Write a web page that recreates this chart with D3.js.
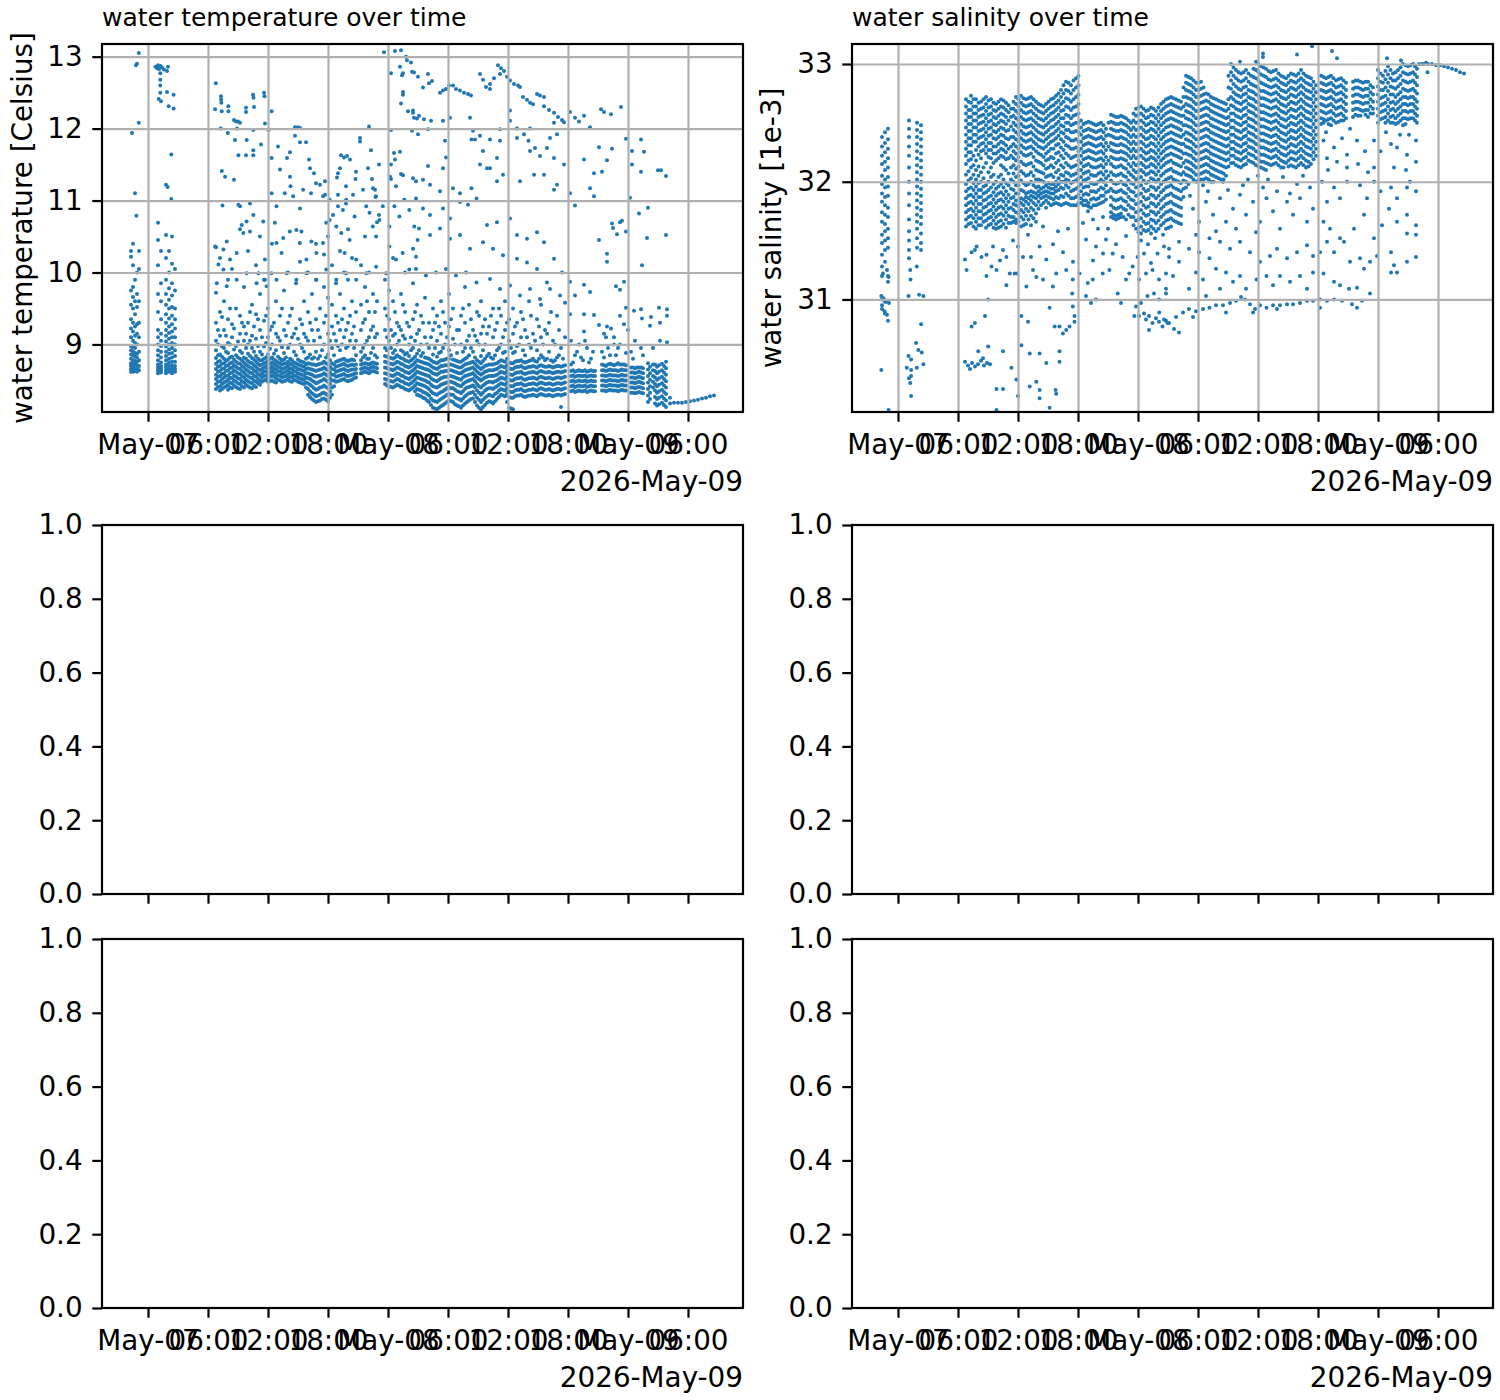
<!DOCTYPE html>
<html>
<head>
<meta charset="utf-8">
<script src="https://cdn.jsdelivr.net/npm/d3@7"></script>
<style>
  body { margin: 0; background: #fff; }
  svg { display: block; font-family: "DejaVu Sans", sans-serif; }
</style>
</head>
<body>
<div id="fig"></div>
<script>
// time is given in hours counted from 2026-05-07 00:00
var tickHours = [0, 6, 12, 18, 24, 30, 36, 42, 48, 54];
var tickLabels = ["May-07", "06:00", "12:00", "18:00", "May-08", "06:00", "12:00", "18:00", "May-09", "06:00"];
var tempTicks = [9, 10, 11, 12, 13];
var salTicks = [31, 32, 33];
var emptyTicks = [0, 0.2, 0.4, 0.6, 0.8, 1.0];

// temperature: one row per dive column -> [hour, values...]
var tempProfiles = [
[-1.7,8.62,8.66,8.7,8.74,8.8,8.86,8.92,8.98,9.1,9.22,9.35,9.55,9.75,10.22,10.3],
[-1.5,8.62,8.65,8.69,8.73,8.78,8.85,8.9,8.96,9.05,9.18,9.3,9.5,9.66,9.8,10.1,10.4],
[-1.3,8.63,8.67,8.72,8.77,8.83,8.88,8.95,9.02,9.12,9.25,9.42,9.6,9.9],
[-1.1,8.62,8.66,8.71,8.76,8.82,8.87,9.0,9.15,9.28,9.52,9.7,10.0],
[-0.9,8.64,8.7,8.78,8.9,9.1,9.3,9.6,10.05,10.3],
[1.0,8.6,8.63,8.66,8.69,8.72,8.78,8.85,8.92,9.0,9.1,9.2,9.45,9.7,10.1,10.45,10.69],
[1.3,8.61,8.64,8.67,8.7,8.75,8.82,8.9,8.98,9.05,9.15,9.35,9.6,9.85,10.3],
[1.8,8.6,8.64,8.68,8.72,8.78,8.84,8.9,8.97,9.04,9.12,9.2,9.3,9.42,9.55,9.7,9.9,10.2,10.52],
[2.1,8.62,8.66,8.7,8.75,8.8,8.87,8.93,9.0,9.08,9.16,9.25,9.36,9.5,9.62,9.78,10.0,10.3],
[2.4,8.6,8.63,8.67,8.71,8.76,8.82,8.88,8.95,9.02,9.1,9.18,9.28,9.4,9.52,9.68,9.85,10.12,10.5],
[2.7,8.62,8.66,8.7,8.76,8.84,8.92,9.0,9.1,9.22,9.35,9.5,9.75,10.05],
[6.8,8.38,8.45,8.52,8.58,8.66,8.73,8.81,8.92,9.05,9.3,9.72,10.35],
[7.2,8.36,8.42,8.49,8.56,8.63,8.7,8.77,8.86,9.12,9.45,10.2],
[7.6,8.4,8.47,8.54,8.6,8.67,8.74,8.8,8.95,9.2,9.6],
[8.0,8.37,8.44,8.51,8.57,8.64,8.71,8.79,8.88,9.02,9.35,9.9],
[8.4,8.39,8.46,8.53,8.61,8.68,8.75,8.83,9.1,9.28,10.05],
[8.8,8.41,8.48,8.55,8.62,8.69,8.76,8.85,8.98,9.5],
[9.2,8.38,8.45,8.52,8.59,8.66,8.73,8.8,8.91,9.15,9.4,10.6],
[9.6,8.4,8.47,8.54,8.61,8.68,8.75,8.82,9.05,9.25,9.8],
[10.0,8.42,8.49,8.56,8.63,8.7,8.77,8.87,9.0,9.3,10.3],
[10.4,8.39,8.46,8.53,8.6,8.67,8.74,8.81,8.95,9.12,9.55],
[10.8,8.41,8.48,8.55,8.62,8.69,8.76,8.84,9.08,9.42,10.1],
[11.2,8.44,8.5,8.57,8.64,8.71,8.78,8.9,9.2,9.7],
[11.6,8.5,8.56,8.62,8.68,8.74,8.8,8.97,9.33,9.9],
[12.0,8.48,8.54,8.6,8.66,8.72,8.78,8.86,9.1,9.5],
[12.4,8.5,8.57,8.63,8.69,8.75,8.82,9.0,9.25,10.4],
[12.8,8.47,8.53,8.59,8.65,8.71,8.77,8.92,9.15,9.6],
[13.2,8.5,8.56,8.62,8.68,8.74,8.8,9.05,9.4],
[13.6,8.49,8.55,8.61,8.67,8.73,8.79,8.88,9.2,9.75],
[14.0,8.52,8.58,8.64,8.7,8.76,8.95,9.3,10.0],
[14.4,8.48,8.54,8.6,8.66,8.72,8.78,9.1,9.5],
[14.8,8.5,8.56,8.62,8.68,8.74,8.85,9.22,9.85],
[15.2,8.47,8.53,8.59,8.65,8.71,8.77,9.0,9.35,10.15],
[15.6,8.45,8.51,8.57,8.63,8.69,8.75,8.9,9.15,9.6],
[16.0,8.3,8.38,8.46,8.53,8.6,8.67,8.74,8.82,9.05,9.45,10.0],
[16.4,8.24,8.32,8.42,8.5,8.58,8.65,8.72,8.8,9.2,9.7],
[16.8,8.2,8.28,8.37,8.46,8.55,8.63,8.71,8.9,9.35,9.9,10.4],
[17.2,8.22,8.3,8.4,8.49,8.57,8.65,8.73,8.84,9.1,9.5],
[17.6,8.25,8.33,8.43,8.52,8.6,8.68,8.76,9.0,9.3,9.8,10.25],
[18.0,8.21,8.29,8.39,8.48,8.56,8.64,8.72,8.86,9.15,9.65,10.5],
[18.4,8.3,8.4,8.5,8.58,8.66,8.74,8.95,9.25,9.55,10.1],
[18.8,8.48,8.55,8.62,8.69,8.76,9.05,9.4,9.85],
[19.2,8.5,8.57,8.64,8.71,8.78,8.92,9.2,9.7,10.3],
[19.6,8.52,8.59,8.66,8.73,8.8,9.1,9.5,10.0],
[20.0,8.49,8.56,8.63,8.7,8.77,8.98,9.3,9.9,10.6],
[20.4,8.51,8.58,8.65,8.72,8.79,9.15,9.6,10.2],
[20.8,8.54,8.6,8.66,8.72,8.85,9.05,9.45],
[21.3,8.6,8.66,8.72,8.78,8.9,9.2,9.55,10.1],
[21.7,8.62,8.68,8.74,8.85,9.0,9.35,9.8,10.5],
[22.1,8.6,8.66,8.72,8.8,9.1,9.45,10.0],
[22.5,8.63,8.69,8.75,8.95,9.25,9.7],
[22.9,8.61,8.67,8.73,8.82,9.15,9.6,10.7],
[23.7,8.45,8.52,8.6,8.68,8.76,8.84,8.95,9.2,9.5,9.9],
[24.1,8.42,8.5,8.58,8.66,8.74,8.82,9.05,9.35,9.75],
[24.5,8.4,8.48,8.56,8.64,8.72,8.8,8.88,9.12,9.6,10.2],
[24.9,8.44,8.52,8.6,8.68,8.76,8.85,9.0,9.3],
[25.3,8.41,8.49,8.57,8.65,8.73,8.81,8.92,9.2,9.7],
[25.7,8.38,8.46,8.54,8.62,8.7,8.78,8.86,9.08,9.45,10.0],
[26.1,8.36,8.44,8.52,8.6,8.68,8.76,8.84,9.0,9.25],
[26.5,8.4,8.48,8.56,8.64,8.72,8.8,8.95,9.35,9.85],
[26.9,8.3,8.38,8.46,8.54,8.62,8.7,8.78,8.87,9.15,9.55],
[27.3,8.28,8.36,8.44,8.52,8.6,8.68,8.76,8.84,9.0,9.4],
[27.7,8.25,8.33,8.42,8.5,8.58,8.66,8.74,8.82,9.1,9.65],
[28.1,8.2,8.29,8.38,8.47,8.56,8.64,8.72,8.8,8.95,9.3],
[28.5,8.12,8.22,8.32,8.42,8.51,8.6,8.68,8.76,8.86,9.2,9.5],
[28.9,8.1,8.2,8.3,8.4,8.49,8.58,8.66,8.74,8.83,9.05,9.4],
[29.3,8.14,8.24,8.34,8.44,8.53,8.62,8.7,8.78,8.9,9.15,9.6],
[29.7,8.18,8.28,8.37,8.46,8.55,8.63,8.71,8.79,9.0,9.3],
[30.1,8.22,8.31,8.4,8.48,8.56,8.64,8.72,8.8,8.92,9.25,9.7],
[30.5,8.2,8.3,8.39,8.47,8.55,8.63,8.71,8.79,9.08,9.5],
[30.9,8.15,8.25,8.35,8.44,8.53,8.61,8.69,8.77,8.88,9.2],
[31.3,8.12,8.22,8.32,8.42,8.51,8.6,8.68,8.76,9.0,9.4],
[31.7,8.18,8.28,8.38,8.47,8.56,8.64,8.72,8.8,8.95,9.3,9.8],
[32.1,8.22,8.32,8.41,8.5,8.58,8.66,8.74,8.85,9.12,9.55],
[32.5,8.25,8.34,8.43,8.52,8.6,8.68,8.76,8.9,9.2],
[32.9,8.15,8.26,8.36,8.45,8.54,8.62,8.7,8.78,9.05,9.45],
[33.3,8.1,8.2,8.3,8.4,8.5,8.58,8.66,8.74,8.84,9.15,9.6],
[33.7,8.16,8.26,8.36,8.45,8.54,8.62,8.7,8.8,9.0,9.35],
[34.1,8.21,8.3,8.39,8.48,8.56,8.64,8.72,8.87,9.25],
[34.5,8.18,8.28,8.38,8.47,8.56,8.64,8.72,8.8,9.1,9.5],
[34.9,8.24,8.33,8.42,8.5,8.58,8.66,8.74,8.92,9.3],
[35.3,8.3,8.38,8.46,8.54,8.62,8.7,8.78,9.0,9.4],
[35.7,8.28,8.36,8.44,8.52,8.6,8.68,8.76,8.9,9.2,9.6],
[36.1,8.12,8.27,8.35,8.43,8.51,8.59,8.67,8.75,9.05,9.35],
[36.5,8.1,8.26,8.34,8.42,8.5,8.58,8.66,8.74,8.88,9.15,9.5],
[36.9,8.29,8.37,8.45,8.53,8.61,8.69,8.77,8.98,9.3],
[37.3,8.3,8.38,8.46,8.54,8.62,8.7,8.78,9.1,9.45],
[37.7,8.27,8.35,8.43,8.51,8.59,8.67,8.75,8.85,9.2],
[38.1,8.29,8.37,8.45,8.53,8.61,8.69,8.77,9.0,9.6],
[38.5,8.3,8.38,8.46,8.54,8.62,8.7,8.8,9.15],
[38.9,8.28,8.36,8.44,8.52,8.6,8.68,8.76,8.92,9.35],
[39.3,8.31,8.39,8.47,8.55,8.63,8.71,8.85,9.1,9.55],
[39.7,8.29,8.37,8.45,8.53,8.61,8.69,8.78,9.2],
[40.1,8.3,8.38,8.46,8.54,8.62,8.7,8.9,9.3],
[40.5,8.28,8.36,8.44,8.52,8.6,8.68,8.76,9.05],
[40.9,8.3,8.38,8.46,8.54,8.62,8.7,8.82,9.4],
[41.3,8.13,8.29,8.37,8.45,8.53,8.61,8.69,8.95],
[41.7,8.31,8.39,8.47,8.55,8.63,8.71,9.1],
[42.3,8.35,8.42,8.49,8.56,8.63,8.72,9.05],
[42.7,8.34,8.41,8.48,8.55,8.62,8.85],
[43.1,8.36,8.43,8.5,8.57,8.64,9.0],
[43.5,8.35,8.42,8.49,8.56,8.63,8.78],
[43.9,8.34,8.41,8.48,8.55,8.62,8.95],
[44.3,8.36,8.43,8.5,8.57,8.64,8.8],
[44.7,8.35,8.42,8.49,8.56,8.63],
[45.4,8.36,8.43,8.5,8.57,8.64,8.72,8.9],
[45.8,8.35,8.42,8.49,8.56,8.63,8.7,9.1],
[46.2,8.37,8.44,8.51,8.58,8.65,8.73,8.85],
[46.6,8.36,8.43,8.5,8.57,8.64,8.71,9.0],
[47.0,8.35,8.42,8.49,8.56,8.63,8.74,8.95],
[47.4,8.37,8.44,8.51,8.58,8.65,8.72],
[47.8,8.36,8.43,8.5,8.57,8.64,8.71,8.88],
[48.3,8.33,8.4,8.47,8.54,8.61,8.68,8.9],
[48.7,8.32,8.39,8.46,8.53,8.6,8.67,9.05],
[49.1,8.34,8.41,8.48,8.55,8.62,8.68],
[49.5,8.32,8.39,8.46,8.53,8.6,8.67,8.85],
[50.0,8.2,8.29,8.38,8.47,8.56,8.65,8.74],
[50.5,8.4,8.48,8.56,8.64,8.72,8.95],
[50.9,8.15,8.24,8.33,8.42,8.51,8.6,8.69],
[51.4,8.19,8.28,8.37,8.46,8.55,8.64,8.73],
[51.8,8.13,8.22,8.31,8.4,8.49,8.58,8.67,8.76],
[52.2,8.18,8.26]
];

// temperature: the dives in between the ones above -> [hour, values...]
var tempProfilesB = [
[7.0,8.41,8.48,8.55,8.62,8.69,8.76,8.85,9.0,9.2],[7.4,8.38,8.45,8.52,8.59,8.66,8.73,8.83,8.97,9.38],
[7.8,8.42,8.49,8.56,8.63,8.7,8.77,8.9,9.12],[8.2,8.4,8.47,8.54,8.6,8.67,8.74,8.82,9.0,9.5],
[8.6,8.43,8.5,8.57,8.64,8.71,8.79,8.93,9.22],[9.0,8.39,8.46,8.53,8.6,8.67,8.74,8.82,9.04],
[9.4,8.42,8.49,8.56,8.63,8.7,8.78,8.88,9.3],[9.8,8.44,8.51,8.58,8.65,8.72,8.8,8.95,9.15],
[10.2,8.4,8.47,8.54,8.61,8.68,8.75,8.84,9.05,9.45],[10.6,8.43,8.5,8.57,8.64,8.71,8.79,8.9,9.25],
[11.0,8.46,8.52,8.59,8.66,8.73,8.8,8.98,9.35],[11.4,8.48,8.54,8.6,8.66,8.72,8.78,8.86,9.1],
[11.8,8.51,8.57,8.63,8.69,8.75,8.82,9.02,9.4],[12.2,8.49,8.55,8.61,8.67,8.73,8.8,8.94,9.2],
[12.6,8.48,8.55,8.61,8.67,8.73,8.79,8.87,9.3],[13.0,8.51,8.57,8.63,8.69,8.75,8.83,9.1],
[13.4,8.48,8.54,8.6,8.66,8.72,8.78,8.96,9.5],[13.8,8.5,8.56,8.62,8.68,8.74,8.82,9.12],
[14.2,8.49,8.55,8.61,8.67,8.73,8.8,9.0,9.4],[14.6,8.51,8.57,8.63,8.69,8.75,8.9,9.15],
[15.0,8.48,8.54,8.6,8.66,8.72,8.79,9.08],[15.4,8.46,8.52,8.58,8.64,8.7,8.76,8.95,9.28],
[15.8,8.4,8.47,8.54,8.6,8.66,8.72,8.8,9.1],[16.2,8.27,8.35,8.44,8.52,8.59,8.66,8.73,8.86,9.3],
[16.6,8.22,8.3,8.39,8.48,8.56,8.64,8.72,8.82,9.05],[17.0,8.21,8.29,8.38,8.47,8.56,8.64,8.72,8.8,9.2],
[17.4,8.24,8.32,8.41,8.5,8.58,8.66,8.74,8.92],[17.8,8.23,8.31,8.41,8.5,8.58,8.66,8.74,8.82,9.4],
[18.2,8.26,8.35,8.45,8.53,8.61,8.69,8.78,9.05],[18.6,8.42,8.5,8.58,8.65,8.72,8.85,9.15],
[19.0,8.49,8.56,8.63,8.7,8.77,8.98,9.3],[19.4,8.51,8.58,8.65,8.72,8.79,9.0,9.35],
[19.8,8.5,8.57,8.64,8.71,8.78,8.95,9.2],[20.2,8.5,8.57,8.64,8.71,8.78,9.05,9.4],
[20.6,8.53,8.59,8.65,8.71,8.78,8.95,9.25],[21.5,8.61,8.67,8.73,8.82,8.95,9.3],
[21.9,8.61,8.67,8.73,8.8,9.05,9.6],[22.3,8.62,8.68,8.74,8.88,9.2],
[22.7,8.62,8.68,8.74,8.85,9.1,9.45],[23.9,8.43,8.51,8.59,8.67,8.75,8.83,8.92,9.1,9.4],
[24.3,8.41,8.49,8.57,8.65,8.73,8.81,8.95,9.2],[24.7,8.42,8.5,8.58,8.66,8.74,8.82,8.92,9.15,9.45],
[25.1,8.43,8.51,8.59,8.67,8.75,8.83,9.05,9.25],[25.5,8.4,8.48,8.56,8.64,8.72,8.8,8.9,9.12,9.55],
[25.9,8.37,8.45,8.53,8.61,8.69,8.77,8.88,9.3],[26.3,8.38,8.46,8.54,8.62,8.7,8.78,8.92,9.1],
[26.7,8.35,8.43,8.51,8.59,8.67,8.75,8.83,9.05,9.45],[27.1,8.29,8.37,8.45,8.53,8.61,8.69,8.77,8.92,9.2],
[27.5,8.26,8.34,8.43,8.51,8.59,8.67,8.75,8.88,9.3],[27.9,8.22,8.31,8.4,8.48,8.57,8.65,8.73,8.81,9.0],
[28.3,8.16,8.25,8.35,8.44,8.53,8.62,8.7,8.78,9.1],[28.7,8.11,8.21,8.31,8.41,8.5,8.59,8.67,8.75,8.95,9.3],
[29.1,8.12,8.22,8.32,8.42,8.51,8.6,8.68,8.76,8.88,9.25],[29.5,8.16,8.26,8.35,8.45,8.54,8.62,8.7,8.78,8.95,9.45],
[29.9,8.2,8.3,8.39,8.47,8.55,8.63,8.71,8.8,9.1],[30.3,8.21,8.3,8.39,8.48,8.56,8.64,8.72,8.85,9.35],
[30.7,8.17,8.27,8.37,8.46,8.54,8.62,8.7,8.78,9.0],[31.1,8.14,8.24,8.34,8.43,8.52,8.6,8.68,8.76,9.2],
[31.5,8.15,8.25,8.35,8.45,8.54,8.62,8.7,8.78,8.9,9.5],[31.9,8.2,8.3,8.4,8.49,8.57,8.65,8.73,8.82,9.05],
[32.3,8.24,8.33,8.42,8.51,8.59,8.67,8.75,8.95,9.35],[32.7,8.2,8.3,8.4,8.49,8.57,8.65,8.73,8.82,9.12],
[33.1,8.12,8.23,8.33,8.42,8.52,8.6,8.68,8.76,9.0,9.4],[33.5,8.13,8.23,8.33,8.43,8.52,8.6,8.68,8.77,8.92,9.25],
[33.9,8.19,8.28,8.38,8.47,8.55,8.63,8.71,8.84,9.15],[34.3,8.2,8.29,8.39,8.48,8.56,8.64,8.72,8.82,9.4],
[34.7,8.21,8.31,8.4,8.49,8.57,8.65,8.73,8.85,9.2],[35.1,8.27,8.36,8.44,8.52,8.6,8.68,8.76,8.95,9.5],
[35.5,8.29,8.37,8.45,8.53,8.61,8.69,8.77,8.88,9.1],[35.9,8.2,8.31,8.39,8.47,8.55,8.63,8.71,8.8,9.3],
[36.3,8.11,8.26,8.34,8.42,8.5,8.58,8.66,8.74,8.95],[36.7,8.28,8.36,8.44,8.52,8.6,8.68,8.76,8.9,9.25],
[37.1,8.29,8.37,8.45,8.53,8.61,8.69,8.77,9.0],[37.5,8.28,8.36,8.44,8.52,8.6,8.68,8.76,8.92,9.35],
[37.9,8.28,8.36,8.44,8.52,8.6,8.68,8.76,9.1],[38.3,8.29,8.37,8.45,8.53,8.61,8.69,8.78,8.95,9.4],
[38.7,8.29,8.37,8.45,8.53,8.61,8.69,8.77,9.05],[39.1,8.3,8.38,8.46,8.54,8.62,8.7,8.8,9.25],
[39.5,8.3,8.38,8.46,8.54,8.62,8.7,8.82,9.0],[39.9,8.29,8.37,8.45,8.53,8.61,8.69,8.8,9.15],
[40.3,8.29,8.37,8.45,8.53,8.61,8.69,8.78,9.45],[40.7,8.29,8.37,8.45,8.53,8.61,8.69,8.78,9.0],
[41.1,8.3,8.38,8.46,8.54,8.62,8.7,8.85,9.2],[41.5,8.3,8.38,8.46,8.54,8.62,8.7,8.8],
[42.5,8.36,8.43,8.5,8.57,8.64,8.75],[42.9,8.35,8.42,8.49,8.56,8.63,8.9],
[43.3,8.35,8.42,8.49,8.56,8.63,8.82],[43.7,8.36,8.43,8.5,8.57,8.64,9.05],
[44.1,8.35,8.42,8.49,8.56,8.63,8.75],[44.5,8.35,8.42,8.49,8.56,8.63,8.9],
[45.6,8.36,8.43,8.5,8.57,8.64,8.71,8.82],[46.0,8.36,8.43,8.5,8.57,8.64,8.72,8.95],
[46.4,8.36,8.43,8.5,8.57,8.64,8.72],[46.8,8.36,8.43,8.5,8.57,8.64,8.72,8.85],
[47.2,8.36,8.43,8.5,8.57,8.64,8.72,9.0],[47.6,8.36,8.43,8.5,8.57,8.64,8.72],
[48.5,8.33,8.4,8.47,8.54,8.61,8.68,8.8],[48.9,8.33,8.4,8.47,8.54,8.61,8.68],
[49.3,8.33,8.4,8.47,8.54,8.61,8.68,8.95],[50.2,8.24,8.33,8.42,8.51,8.6,8.69],
[50.7,8.18,8.27,8.36,8.45,8.54,8.63,8.72],[51.1,8.17,8.26,8.35,8.44,8.53,8.62,8.71],
[51.6,8.16,8.25,8.34,8.43,8.52,8.61,8.7]
];

// temperature: single readings -> [hour, value]
var tempScatter = [
[-1.6,11.94],[-1.2,12.88],[-1.1,12.9],[-0.92,13.05],[-0.92,12.08],[-1.3,11.1],[-1.16,10.79],
[0.75,12.86],[0.9,12.84],[1.0,12.88],[1.1,12.83],[1.25,12.87],[1.4,12.85],[1.6,12.82],[2.0,12.86],
[1.23,12.77],[1.23,12.68],[1.23,12.6],[1.23,12.5],[1.07,12.41],[1.3,12.38],[1.9,12.51],[1.9,12.8],
[2.07,12.31],[2.56,12.28],[2.56,12.47],[2.33,11.64],[1.96,11.19],[1.8,11.22],[2.33,11.02],
[52.6,8.19],[53.0,8.19],[53.4,8.19],[53.8,8.2],[54.2,8.21],[54.6,8.22],[55.0,8.23],[55.4,8.25],[55.8,8.26],[56.2,8.28],[56.6,8.29],
[6.78,12.63],[6.71,12.27],[7.3,12.45],[7.31,12.4],[7.33,12.36],[7.37,12.24],[7.28,12.0],[7.38,11.41],[7.71,11.33],[7.45,10.93],
[8.04,12.31],[8.04,12.24],[7.98,11.94],[8.6,11.29],[8.6,12.12],[8.8,12.1],[9.0,12.1],[9.2,12.08],[8.9,12.0],[8.7,11.84],
[9.04,11.63],[9.04,10.94],[9.8,12.29],[9.8,12.23],[9.87,11.84],[9.8,11.63],[10.5,12.47],[10.55,12.43],[10.6,12.3],[10.53,11.98],
[10.53,11.7],[10.53,11.63],[11.3,11.78],[11.6,12.5],[11.65,12.45],[11.7,12.07],[12.06,11.98],[12.36,12.24],[12.36,11.59],[12.36,11.1],
[13.0,11.75],[13.2,11.43],[13.9,11.59],[14.2,11.67],[14.2,11.33],[14.25,11.2],[14.7,12.02],[15.0,12.02],[15.2,12.01],[14.7,11.9],
[15.2,11.81],[15.8,11.81],[16.1,11.57],[15.2,10.89],[16.2,11.45],[16.3,11.1],[16.6,11.38],[16.8,11.24],[17.2,11.22],[17.7,11.27],
[17.7,11.08],[19.0,11.38],[19.0,11.08],[18.9,11.32],[19.3,11.63],[19.6,11.6],[19.9,11.62],[20.2,11.57],[19.2,11.45],[19.8,11.2],
[19.8,10.96],[20.8,11.4],[20.75,11.3],[20.5,11.08],[21.2,11.87],[21.2,11.82],[22.1,12.03],[22.0,11.45],[22.3,11.7],[22.4,11.3],
[22.5,11.17],[22.7,11.15],[22.75,11.05],[23.1,11.5],[23.1,10.8],
[23.6,13.06],[24.3,12.77],[24.3,11.5],[24.2,11.33],[24.3,11.98],[24.6,11.66],[24.7,13.08],[25.3,13.09],[25.2,12.86],[25.5,12.77],
[25.4,12.74],[25.5,12.51],[25.5,12.47],[25.3,12.35],[25.8,13.0],[25.9,12.95],[26.0,12.24],[26.3,12.92],[26.4,12.79],[26.5,12.22],
[26.4,11.97],[26.6,12.15],[26.9,12.14],[25.3,11.37],[25.5,11.35],[25.2,11.68],[24.7,11.57],[24.3,11.3],[24.8,11.2],
[26.6,12.78],[27.0,12.72],[28.0,12.76],[28.1,12.63],[27.5,12.57],[28.4,12.66],[29.5,12.53],[29.8,12.55],[30.1,12.6],[30.5,12.6],
[30.8,12.55],[31.2,12.53],[31.6,12.5],[32.0,12.48],[32.3,12.46],[29.2,12.5],[33.2,12.76],[33.5,12.68],[33.8,12.58],[34.2,12.62],
[34.2,12.55],[34.6,12.7],[35.0,12.88],[35.3,12.84],[35.6,12.8],[35.9,12.72],[35.2,12.76],[36.2,12.67],[36.6,12.62],[37.0,12.6],
[37.2,12.58],[37.5,12.44],[37.9,12.4],[38.2,12.36],[38.5,12.34],[38.9,12.48],[39.2,12.46],[39.6,12.44],[39.6,12.31],[40.1,12.26],
[40.6,12.22],[41.0,12.16],[41.4,12.12],[41.6,12.09],[42.2,12.23],[42.7,12.15],[43.1,12.1],[43.6,12.18],[44.2,12.02],[45.3,12.27],
[45.6,12.23],[46.3,12.2],[47.3,12.3],[47.8,11.86],[49.3,11.85],[48.4,11.69],[49.6,11.68],[43.6,11.57],[45.1,11.74],[46.4,11.72],
[45.9,11.56],[44.6,11.38],[45.4,11.4],[48.4,11.5],[49.3,11.4],[51.0,11.42],[51.3,11.42],[51.8,11.34],[48.2,11.04],[49.1,10.82],
[50.0,10.9],[46.4,10.68],[47.4,10.72],[47.8,10.57],[46.9,10.53],[49.9,10.48],[51.8,10.52],[45.1,10.45],[45.9,10.26],[45.9,10.15],
[49.4,10.1],[42.2,11.1],[42.7,10.93],[44.2,11.17],[44.6,11.06],[42.2,9.87],[43.6,9.83],[44.2,9.73],[42.7,9.68],[43.6,9.42],
[44.6,9.41],[42.2,9.42],[43.6,9.18],[45.1,9.27],[45.9,9.25],[46.3,9.22],[45.6,9.15],[46.6,9.1],[47.8,9.51],[48.6,9.47],
[49.3,9.49],[47.2,9.4],[49.4,9.36],[50.3,9.38],[51.1,9.51],[51.9,9.49],[51.9,9.4],[51.2,9.3],[50.2,9.26],[47.6,9.28],
[48.0,9.2],[51.2,9.05],[51.9,9.03],[47.6,9.87],[46.8,9.81],[47.2,9.76],[47.2,10.7],[46.5,10.62],
[32.5,11.97],[32.35,11.85],[33.2,11.9],[34.2,11.85],[33.5,11.69],[33.9,11.45],[34.9,11.59],[35.2,11.83],[36.2,12.25],[36.2,12.11],
[36.9,11.87],[37.6,11.92],[38.05,11.83],[38.2,11.69],[38.7,11.73],[39.2,11.62],[40.2,11.87],[40.9,11.92],[40.6,11.59],[41.6,11.5],
[40.9,11.22],[40.6,11.15],[39.6,11.36],[38.6,11.36],[37.2,11.27],[35.5,11.36],[34.9,11.27],[34.2,11.45],[33.2,11.5],[32.35,11.17],
[31.2,11.1],[30.5,11.17],[29.2,11.13],[28.2,11.22],[27.5,11.29],[26.5,11.31],[26.8,11.03],[27.5,10.89],[28.2,10.8],[29.5,10.89],
[30.2,10.75],[31.2,10.98],[32.0,10.94],[32.85,11.03],[33.9,10.66],[34.9,10.7],[36.2,10.75],[36.9,10.52],[37.9,10.47],[38.9,10.56],
[39.6,10.42],[40.6,10.19],[41.4,10.0],[39.9,9.86],[38.9,10.05],[37.9,10.14],[36.9,10.19],[35.5,10.24],[34.5,10.33],[33.5,10.42],
[32.2,10.33],[31.2,10.52],[30.2,10.47],[29.2,10.61],[28.2,10.52],[27.1,10.61],[26.5,10.33],[26.8,10.05],[27.8,9.96],[28.8,10.0],
[29.8,10.05],[30.8,9.96],[31.8,10.0],[32.85,9.86],[34.2,9.91],[35.2,9.77],[36.2,9.82],[37.2,9.68],[38.2,9.77],[39.2,9.63],
[40.2,9.77],[41.2,9.68],[41.7,9.58],
[26.5,12.25],[27.1,12.18],[27.6,12.13],[28.3,12.11],[29.5,12.11],[30.2,12.15],[27.0,11.92],[28.0,11.99],[29.7,11.83],[29.8,11.6],
[29.5,11.45],[28.0,11.48],[26.8,11.27],[32.2,12.15],[32.7,11.85],[40.6,12.08],[39.9,11.73],[36.9,12.0],[38.2,12.0],[35.2,11.99],
[6.71,10.36],[7.54,10.32],[7.87,10.43],[7.04,10.11],[7.54,10.04],[8.2,10.18],[8.87,10.27],[9.37,10.66],[9.86,10.71],[9.53,10.55],
[10.2,10.57],[10.53,10.8],[11.19,10.5],[11.52,10.71],[11.69,10.18],[11.03,9.99],[11.69,9.9],[12.35,9.99],[12.69,10.69],[12.85,10.41],
[13.35,10.27],[13.52,10.48],[14.18,10.57],[14.84,10.59],[15.34,10.57],[15.18,10.41],[15.84,10.18],[16.34,10.43],[16.84,10.27],[17.5,10.41],
[17.83,10.69],[18.16,10.73],[18.5,10.8],[18.83,10.64],[19.49,10.87],[19.82,11.01],[19.33,10.55],[19.66,10.27],[20.16,10.45],[20.66,10.78],
[20.82,10.18],[21.82,10.92],[22.15,10.83],[22.48,10.64],[22.81,10.5],[23.14,10.73],[23.48,10.92],[24.14,10.64],[24.64,10.92],[25.14,10.78],
[25.63,11.01],[26.13,10.87],[26.63,10.64],[26.96,10.45],[24.14,10.36],[24.8,10.18],[25.47,10.27],[26.13,10.04],[26.8,10.22],[23.81,9.99],
[22.81,10.08],[21.82,9.99],[20.82,9.9],[19.82,9.99],[18.83,9.9],[17.83,10.04],[16.84,9.9],[15.84,9.99],[14.84,9.9],[13.85,9.99],
[12.85,9.9],[11.86,9.81],[10.86,9.85],[9.86,9.99],[8.87,9.9],[7.87,9.81],[6.88,9.85],
[9.2,10.92],[10.2,10.96],[12.85,10.92],[13.68,11.1],[14.51,11.06],[15.51,11.15],[17.5,11.06],[18.16,11.01],[19.0,10.92],[21.5,11.15],[22.8,11.06]
];

// salinity: one row per dive column -> [hour, values...]
var salProfiles = [
[-1.6,32.38,32.3,32.22,32.15,32.05,31.98,31.9,31.83,31.74,31.66,31.55,31.48,31.38,31.2,31.0,30.95],
[-1.3,32.42,32.33,32.25,32.17,32.1,32.02,31.95,31.87,31.8,31.72,31.64,31.58,31.5,31.42,31.32,30.98,30.88],
[-1.0,32.45,32.36,32.28,32.2,32.12,32.04,31.96,31.88,31.78,31.7,31.6,31.52,31.44,31.2,31.15,30.82],
[1.1,32.52,32.45,32.38,32.3,32.22,32.12,32.0,31.9,31.8,31.68,31.58,31.5,31.42,31.35],
[1.9,32.5,32.44,32.38,32.32,32.26,32.2,32.14,32.08,32.02,31.96,31.9,31.84,31.78,31.72,31.66,31.6,31.52,31.44],
[2.3,32.48,32.42,32.36,32.3,32.24,32.18,32.12,32.06,32.0,31.94,31.88,31.82,31.76,31.7,31.64,31.56,31.48,31.42],
[6.8,32.70,32.64,32.58,32.52,32.46,32.40,32.34,32.28,32.22,32.15,32.06,31.98,31.92,31.86,31.80,31.74,31.68,31.62],
[7.3,32.73,32.67,32.61,32.55,32.49,32.43,32.37,32.31,32.25,32.19,32.12,32.03,31.95,31.89,31.83,31.77,31.71,31.65],
[7.8,32.70,32.64,32.58,32.52,32.46,32.40,32.34,32.27,32.18,32.10,32.02,31.96,31.90,31.84,31.78,31.72,31.66,31.60],
[8.3,32.68,32.62,32.56,32.50,32.44,32.38,32.32,32.26,32.20,32.08,32.00,31.93,31.87,31.81,31.75,31.69,31.63],
[8.8,32.72,32.66,32.60,32.54,32.48,32.42,32.36,32.30,32.24,32.16,31.97,31.91,31.85,31.79,31.73,31.67,31.61],
[9.3,32.70,32.64,32.58,32.52,32.46,32.40,32.33,32.27,32.20,32.12,32.04,31.95,31.88,31.82,31.76,31.70,31.64],
[9.8,32.66,32.60,32.54,32.48,32.42,32.36,32.30,32.24,32.18,32.00,31.94,31.88,31.82,31.76,31.70,31.64,31.60],
[10.3,32.70,32.64,32.58,32.52,32.46,32.40,32.34,32.28,32.22,32.14,32.06,31.98,31.91,31.85,31.79,31.73,31.67,31.62],
[10.8,32.67,32.61,32.55,32.49,32.43,32.37,32.31,32.25,32.19,32.10,31.99,31.92,31.86,31.80,31.74,31.68,31.61],
[11.3,32.62,32.55,32.47,32.38,32.30,32.22,32.12,32.02,31.94,31.86,31.78,31.70,31.65],
[11.8,32.72,32.66,32.60,32.54,32.48,32.42,32.36,32.30,32.24,32.18,32.11,32.04,31.97,31.90,31.84,31.80,31.74,31.68,31.65],
[12.3,32.73,32.67,32.61,32.55,32.49,32.43,32.37,32.31,32.25,32.17,32.09,32.01,31.93,31.86,31.82,31.76,31.70,31.62],
[12.8,32.70,32.64,32.58,32.52,32.46,32.40,32.34,32.28,32.22,32.14,32.05,31.97,31.90,31.87,31.83,31.77,31.71,31.64],
[13.3,32.72,32.66,32.60,32.54,32.48,32.42,32.36,32.30,32.24,32.16,32.08,32.00,31.92,31.88,31.84,31.78,31.71,31.63],
[13.8,32.68,32.62,32.56,32.50,32.44,32.38,32.32,32.26,32.18,32.10,32.02,31.95,31.90,31.86,31.80,31.73,31.66],
[14.3,32.65,32.59,32.53,32.47,32.41,32.35,32.29,32.23,32.16,32.08,32.01,31.94,31.90,31.86,31.80],
[14.8,32.66,32.60,32.54,32.48,32.42,32.36,32.30,32.24,32.18,32.11,32.04,31.97,31.92,31.88,31.84,31.78],
[15.3,32.70,32.64,32.58,32.52,32.46,32.40,32.34,32.28,32.21,32.14,32.06,31.98,31.94,31.90,31.86,31.80],
[15.8,32.73,32.67,32.61,32.55,32.49,32.43,32.37,32.31,32.24,32.16,32.08,32.00,31.96,31.92,31.87,31.82],
[16.3,32.78,32.72,32.66,32.60,32.54,32.48,32.42,32.36,32.29,32.22,32.14,32.06,32.00,31.95,31.88,31.80],
[16.8,32.85,32.78,32.71,32.64,32.57,32.50,32.44,32.38,32.31,32.24,32.16,32.08,32.02,31.97,31.90,31.82],
[17.3,32.82,32.75,32.68,32.61,32.54,32.48,32.42,32.35,32.28,32.20,32.12,32.05,31.99,31.92,31.86,31.80],
[17.8,32.88,32.80,32.72,32.64,32.57,32.50,32.43,32.36,32.29,32.22,32.14,32.07,32.01,31.94,31.87,31.80],
[18.3,32.52,32.46,32.40,32.34,32.28,32.22,32.16,32.10,32.04,31.98,31.92,31.86,31.82],
[18.8,32.50,32.44,32.38,32.32,32.26,32.20,32.14,32.08,32.02,31.96,31.90,31.84,31.80],
[19.3,32.50,32.44,32.38,32.32,32.26,32.20,32.13,32.06,31.99,31.92,31.85,31.78],
[19.8,32.48,32.42,32.36,32.30,32.24,32.18,32.12,32.05,31.98,31.91,31.85,31.80],
[20.3,32.50,32.44,32.38,32.32,32.26,32.20,32.14,32.08,32.02,31.95,31.88,31.82],
[20.8,32.45,32.39,32.33,32.27,32.21,32.15,32.09,32.03,31.97,31.91,31.85],
[21.3,32.57,32.51,32.45,32.39,32.33,32.27,32.21,32.15,32.08,32.01,31.94,31.87,31.80,31.74,31.70],
[21.8,32.55,32.49,32.43,32.37,32.31,32.25,32.19,32.12,32.05,31.98,31.91,31.84,31.77,31.71,31.68],
[22.3,32.56,32.50,32.44,32.38,32.32,32.26,32.20,32.14,32.07,32.00,31.93,31.86,31.79,31.73,31.70],
[22.8,32.54,32.48,32.42,32.36,32.30,32.24,32.18,32.11,32.04,31.97,31.90,31.83,31.76,31.68],
[23.3,32.50,32.44,32.38,32.32,32.26,32.20,32.13,32.06,31.99,31.92,31.85,31.78,31.70],
[23.8,32.62,32.56,32.50,32.44,32.38,32.32,32.26,32.20,32.14,32.08,32.02,31.95,31.88,31.81,31.74,31.67,31.60],
[24.3,32.64,32.58,32.52,32.46,32.40,32.34,32.28,32.22,32.16,32.10,32.04,31.97,31.90,31.83,31.76,31.69,31.62,31.56],
[24.8,32.60,32.54,32.48,32.42,32.36,32.30,32.24,32.18,32.12,32.06,31.99,31.92,31.85,31.78,31.71,31.64,31.58],
[25.3,32.63,32.57,32.51,32.45,32.39,32.33,32.27,32.21,32.15,32.09,32.03,31.96,31.89,31.82,31.75,31.68,31.62,31.56],
[25.8,32.60,32.54,32.48,32.42,32.36,32.30,32.24,32.18,32.12,32.06,32.00,31.93,31.86,31.79,31.72,31.65,31.58],
[26.3,32.66,32.60,32.54,32.48,32.42,32.36,32.30,32.24,32.18,32.12,32.05,31.98,31.91,31.84,31.77,31.70,31.63],
[26.8,32.70,32.64,32.58,32.52,32.46,32.40,32.34,32.28,32.22,32.16,32.09,32.02,31.95,31.88,31.81,31.74,31.67,31.60],
[27.3,32.72,32.66,32.60,32.54,32.48,32.42,32.36,32.30,32.24,32.18,32.11,32.04,31.97,31.90,31.83,31.76,31.69,31.62],
[27.8,32.70,32.64,32.58,32.52,32.46,32.40,32.34,32.28,32.22,32.15,32.08,32.01,31.94,31.87,31.80,31.73,31.66],
[28.3,32.68,32.62,32.56,32.50,32.44,32.38,32.32,32.26,32.20,32.13,32.06,31.99,31.92,31.85,31.78,31.71,31.64],
[28.8,32.90,32.84,32.78,32.72,32.66,32.60,32.54,32.48,32.42,32.36,32.30,32.24,32.18,32.12,32.06,32.00],
[29.3,32.88,32.82,32.76,32.70,32.64,32.58,32.52,32.46,32.40,32.34,32.28,32.22,32.16,32.10,32.04],
[29.8,32.84,32.78,32.72,32.66,32.60,32.54,32.48,32.42,32.36,32.30,32.24,32.18,32.12,32.06,32.00],
[30.3,32.85,32.79,32.73,32.67,32.61,32.55,32.49,32.43,32.37,32.31,32.25,32.19,32.13,32.07,32.02],
[30.8,32.75,32.69,32.63,32.57,32.51,32.45,32.39,32.33,32.27,32.21,32.15,32.09,32.03],
[31.3,32.72,32.66,32.60,32.54,32.48,32.42,32.36,32.30,32.24,32.18,32.12,32.06,32.00],
[31.8,32.70,32.64,32.58,32.52,32.46,32.40,32.34,32.28,32.22,32.16,32.10,32.04],
[32.3,32.68,32.62,32.56,32.50,32.44,32.38,32.32,32.26,32.20,32.14,32.08,32.02],
[32.8,32.66,32.60,32.54,32.48,32.42,32.36,32.30,32.24,32.18,32.12,32.05],
[33.3,33.00,32.93,32.86,32.79,32.72,32.65,32.58,32.52,32.46,32.40,32.34,32.28,32.22,32.16],
[33.8,32.95,32.88,32.81,32.74,32.68,32.62,32.56,32.50,32.44,32.38,32.32,32.26,32.20,32.14],
[34.3,32.92,32.85,32.78,32.72,32.66,32.60,32.54,32.48,32.42,32.36,32.30,32.24,32.18,32.12],
[34.8,32.95,32.88,32.81,32.75,32.69,32.63,32.57,32.51,32.45,32.39,32.33,32.27,32.21,32.15],
[35.3,32.90,32.83,32.77,32.71,32.65,32.59,32.53,32.47,32.41,32.35,32.29,32.23,32.17],
[35.8,33.02,32.95,32.88,32.81,32.74,32.68,32.62,32.56,32.50,32.44,32.38,32.32,32.26,32.20,32.14],
[36.3,32.98,32.91,32.84,32.77,32.71,32.65,32.59,32.53,32.47,32.41,32.35,32.29,32.23,32.17,32.12],
[36.8,32.96,32.89,32.82,32.76,32.70,32.64,32.58,32.52,32.46,32.40,32.34,32.28,32.22,32.16,32.10],
[37.3,32.93,32.86,32.80,32.74,32.68,32.62,32.56,32.50,32.44,32.38,32.32,32.26,32.20,32.14],
[37.8,32.95,32.88,32.82,32.76,32.70,32.64,32.58,32.52,32.46,32.40,32.34,32.28,32.22,32.16],
[38.3,32.90,32.84,32.78,32.72,32.66,32.60,32.54,32.48,32.42,32.36,32.30,32.24,32.18,32.12],
[38.8,32.88,32.82,32.76,32.70,32.64,32.58,32.52,32.46,32.40,32.34,32.28,32.22,32.16],
[39.3,32.92,32.86,32.80,32.74,32.68,32.62,32.56,32.50,32.44,32.38,32.32,32.26,32.20,32.14],
[39.8,32.90,32.84,32.78,32.72,32.66,32.60,32.54,32.48,32.42,32.36,32.30,32.24,32.18,32.12],
[40.3,32.95,32.88,32.82,32.76,32.70,32.64,32.58,32.52,32.46,32.40,32.34,32.28,32.22,32.16],
[40.8,32.90,32.84,32.78,32.72,32.66,32.60,32.54,32.48,32.42,32.36,32.30,32.24,32.18,32.12],
[41.3,32.88,32.82,32.76,32.70,32.64,32.58,32.52,32.46,32.40,32.34,32.28,32.22,32.15],
[41.8,32.82,32.76,32.70,32.64,32.58,32.52,32.46,32.40,32.34,32.28,32.22],
[42.3,32.90,32.84,32.78,32.72,32.66,32.60,32.54,32.49],
[42.8,32.88,32.82,32.76,32.70,32.64,32.58,32.52],
[43.3,32.90,32.84,32.78,32.72,32.66,32.60,32.54,32.48],
[43.8,32.86,32.80,32.74,32.68,32.62,32.56,32.50],
[44.3,32.88,32.82,32.76,32.70,32.64,32.58,32.52],
[44.8,32.84,32.78,32.72,32.66,32.60,32.54],
[45.5,32.85,32.79,32.73,32.67,32.61,32.55],
[46.0,32.86,32.80,32.74,32.68,32.62,32.56],
[46.5,32.84,32.78,32.72,32.66,32.60],
[47.0,32.85,32.79,32.73,32.67,32.61,32.55],
[47.5,32.80,32.74,32.68,32.62,32.58],
[48.0,32.95,32.88,32.81,32.74,32.68,32.62,32.56,32.50],
[48.5,32.90,32.84,32.78,32.72,32.66,32.60,32.54],
[49.0,32.98,32.91,32.84,32.77,32.70,32.64,32.58,32.52],
[49.5,32.92,32.86,32.80,32.74,32.68,32.62,32.56,32.50],
[50.0,32.95,32.88,32.81,32.74,32.68,32.62,32.56,32.50],
[50.5,33.00,32.93,32.86,32.79,32.72,32.66,32.60,32.54,32.48],
[51.0,32.98,32.91,32.84,32.77,32.71,32.65,32.59,32.53],
[51.5,33.00,32.93,32.86,32.79,32.72,32.66,32.60,32.54],
[51.9,32.96,32.89,32.82,32.75,32.68,32.62,32.56,32.50]
];

// salinity: the dives in between the ones above -> [hour, values...]
var salProfilesB = [
[7.05,32.68,32.61,32.55,32.49,32.43,32.37,32.31,32.25,32.18,32.09,32.01,31.94,31.88,31.82,31.76,31.70,31.64],
[7.55,32.70,32.64,32.58,32.52,32.46,32.40,32.34,32.22,32.14,32.06,31.99,31.93,31.87,31.81,31.75,31.69,31.62],
[8.05,32.67,32.61,32.55,32.49,32.43,32.37,32.30,32.23,32.13,32.05,31.99,31.93,31.87,31.81,31.75,31.69,31.63],
[8.55,32.70,32.63,32.57,32.51,32.45,32.39,32.33,32.27,32.12,32.03,31.96,31.90,31.84,31.78,31.72,31.66],
[9.05,32.69,32.63,32.57,32.51,32.45,32.39,32.33,32.27,32.21,32.08,32.00,31.93,31.87,31.81,31.75,31.69,31.63],
[9.55,32.67,32.61,32.55,32.49,32.43,32.37,32.30,32.24,32.16,32.06,31.98,31.91,31.85,31.79,31.73,31.67,31.61],
[10.05,32.68,32.62,32.56,32.50,32.44,32.38,32.32,32.26,32.20,32.04,31.96,31.90,31.84,31.78,31.72,31.66,31.61],
[10.55,32.69,32.63,32.57,32.51,32.45,32.39,32.33,32.27,32.21,32.12,32.02,31.95,31.89,31.83,31.77,31.71,31.64],
[11.05,32.65,32.59,32.52,32.44,32.36,32.28,32.20,32.07,31.97,31.89,31.83,31.77,31.71,31.65],
[11.55,32.68,32.62,32.56,32.50,32.44,32.38,32.32,32.26,32.20,32.14,32.07,32.00,31.93,31.87,31.81,31.76,31.70,31.66],
[12.05,32.70,32.64,32.58,32.52,32.46,32.40,32.34,32.28,32.21,32.13,32.05,31.97,31.90,31.84,31.79,31.73,31.66],
[12.55,32.71,32.65,32.59,32.53,32.47,32.41,32.35,32.29,32.23,32.15,32.07,31.99,31.92,31.85,31.80,31.74,31.68,31.63],
[13.05,32.71,32.65,32.59,32.53,32.47,32.41,32.35,32.29,32.23,32.15,32.06,31.98,31.91,31.86,31.81,31.75,31.68],
[13.55,32.70,32.64,32.58,32.52,32.46,32.40,32.34,32.28,32.21,32.13,32.05,31.97,31.91,31.87,31.82,31.76,31.69],
[14.05,32.66,32.60,32.54,32.48,32.42,32.36,32.30,32.24,32.17,32.09,32.02,31.96,31.92,31.88,31.83,31.77],
[14.55,32.64,32.58,32.52,32.46,32.40,32.34,32.28,32.21,32.14,32.07,32.00,31.95,31.91,31.87,31.82],
[15.05,32.68,32.62,32.56,32.50,32.44,32.38,32.32,32.26,32.19,32.12,32.05,31.99,31.95,31.91,31.87,31.82],
[15.55,32.71,32.65,32.59,32.53,32.47,32.41,32.35,32.28,32.20,32.12,32.04,31.98,31.94,31.90,31.85,31.81],
[16.05,32.75,32.69,32.63,32.57,32.51,32.45,32.39,32.32,32.25,32.18,32.10,32.03,31.98,31.93,31.86,31.81],
[16.55,32.82,32.75,32.68,32.61,32.54,32.47,32.41,32.34,32.27,32.20,32.12,32.05,32.00,31.94,31.87,31.81],
[17.05,32.84,32.77,32.70,32.63,32.56,32.50,32.44,32.37,32.30,32.22,32.14,32.07,32.01,31.95,31.88,31.81],
[17.55,32.86,32.78,32.70,32.63,32.56,32.49,32.42,32.35,32.28,32.21,32.13,32.06,32.00,31.93,31.86,31.80],
[18.05,32.90,32.82,32.74,32.66,32.58,32.50,32.42,32.34,32.26,32.18,32.10,32.03,31.96,31.89,31.82],
[18.55,32.49,32.43,32.37,32.31,32.25,32.19,32.13,32.07,32.01,31.95,31.89,31.84,31.80],
[19.05,32.51,32.45,32.39,32.33,32.27,32.21,32.15,32.09,32.03,31.96,31.89,31.82,31.79],
[19.55,32.49,32.43,32.37,32.31,32.25,32.19,32.12,32.05,31.98,31.92,31.86,31.80],
[20.05,32.49,32.43,32.37,32.31,32.25,32.19,32.13,32.07,32.00,31.93,31.86,31.81],
[20.55,32.48,32.42,32.36,32.30,32.24,32.18,32.12,32.06,32.00,31.94,31.88,31.83],
[21.05,32.50,32.40,32.30,32.18,32.05,31.92],
[21.55,32.56,32.50,32.44,32.38,32.32,32.26,32.20,32.13,32.06,31.99,31.92,31.85,31.78,31.72,31.69],
[22.05,32.55,32.49,32.43,32.37,32.31,32.25,32.19,32.13,32.06,31.99,31.92,31.85,31.78,31.72,31.69],
[22.55,32.55,32.49,32.43,32.37,32.31,32.25,32.19,32.12,32.05,31.98,31.91,31.84,31.77,31.70],
[23.05,32.52,32.46,32.40,32.34,32.28,32.22,32.15,32.08,32.01,31.94,31.87,31.80,31.72],
[23.55,32.58,32.52,32.46,32.40,32.34,32.28,32.22,32.16,32.10,32.04,31.98,31.91,31.84,31.77,31.70,31.63],
[24.05,32.63,32.57,32.51,32.45,32.39,32.33,32.27,32.21,32.15,32.09,32.03,31.96,31.89,31.82,31.75,31.68,31.61,31.57],
[24.55,32.62,32.56,32.50,32.44,32.38,32.32,32.26,32.20,32.14,32.08,32.01,31.94,31.87,31.80,31.73,31.66,31.59],
[25.05,32.61,32.55,32.49,32.43,32.37,32.31,32.25,32.19,32.13,32.07,32.00,31.93,31.86,31.79,31.72,31.65,31.59],
[25.55,32.62,32.56,32.50,32.44,32.38,32.32,32.26,32.20,32.14,32.08,32.02,31.95,31.88,31.81,31.74,31.67,31.60],
[26.05,32.63,32.57,32.51,32.45,32.39,32.33,32.27,32.21,32.15,32.09,32.02,31.95,31.88,31.81,31.74,31.67,31.60],
[26.55,32.68,32.62,32.56,32.50,32.44,32.38,32.32,32.26,32.20,32.14,32.07,32.00,31.93,31.86,31.79,31.72,31.65],
[27.05,32.71,32.65,32.59,32.53,32.47,32.41,32.35,32.29,32.23,32.17,32.10,32.03,31.96,31.89,31.82,31.75,31.68,31.61],
[27.55,32.71,32.65,32.59,32.53,32.47,32.41,32.35,32.29,32.23,32.16,32.09,32.02,31.95,31.88,31.81,31.74,31.67],
[28.05,32.69,32.63,32.57,32.51,32.45,32.39,32.33,32.27,32.21,32.14,32.07,32.00,31.93,31.86,31.79,31.72,31.65],
[28.55,32.80,32.72,32.64,32.56,32.48,32.40,32.32,32.24,32.16,32.08,32.01,31.94,31.87],
[29.05,32.89,32.83,32.77,32.71,32.65,32.59,32.53,32.47,32.41,32.35,32.29,32.23,32.17,32.11,32.05,31.98],
[29.55,32.86,32.80,32.74,32.68,32.62,32.56,32.50,32.44,32.38,32.32,32.26,32.20,32.14,32.08,32.02],
[30.05,32.84,32.78,32.72,32.66,32.60,32.54,32.48,32.42,32.36,32.30,32.24,32.18,32.12,32.06,32.01],
[30.55,32.80,32.74,32.68,32.62,32.56,32.50,32.44,32.38,32.32,32.26,32.20,32.14,32.08,32.02],
[31.05,32.74,32.68,32.62,32.56,32.50,32.44,32.38,32.32,32.26,32.20,32.14,32.08,32.02],
[31.55,32.71,32.65,32.59,32.53,32.47,32.41,32.35,32.29,32.23,32.17,32.11,32.05,32.00],
[32.05,32.69,32.63,32.57,32.51,32.45,32.39,32.33,32.27,32.21,32.15,32.09,32.03],
[32.55,32.67,32.61,32.55,32.49,32.43,32.37,32.31,32.25,32.19,32.13,32.07,32.02],
[33.05,32.90,32.80,32.70,32.62,32.55,32.49,32.43,32.37,32.31,32.25,32.19,32.13],
[33.55,32.97,32.90,32.83,32.76,32.70,32.64,32.58,32.52,32.46,32.40,32.34,32.28,32.22,32.16],
[34.05,32.93,32.86,32.79,32.73,32.67,32.61,32.55,32.49,32.43,32.37,32.31,32.25,32.19,32.13],
[34.55,32.93,32.86,32.80,32.74,32.68,32.62,32.56,32.50,32.44,32.38,32.32,32.26,32.20,32.14],
[35.05,32.92,32.85,32.78,32.72,32.66,32.60,32.54,32.48,32.42,32.36,32.30,32.24,32.18],
[35.55,32.96,32.89,32.82,32.76,32.70,32.64,32.58,32.52,32.46,32.40,32.34,32.28,32.22,32.16],
[36.05,33.00,32.93,32.86,32.79,32.73,32.67,32.61,32.55,32.49,32.43,32.37,32.31,32.25,32.19,32.13],
[36.55,32.97,32.90,32.83,32.77,32.71,32.65,32.59,32.53,32.47,32.41,32.35,32.29,32.23,32.17,32.11],
[37.05,32.94,32.87,32.81,32.75,32.69,32.63,32.57,32.51,32.45,32.39,32.33,32.27,32.21,32.15],
[37.55,32.94,32.87,32.81,32.75,32.69,32.63,32.57,32.51,32.45,32.39,32.33,32.27,32.21,32.15],
[38.05,32.92,32.86,32.80,32.74,32.68,32.62,32.56,32.50,32.44,32.38,32.32,32.26,32.20,32.14],
[38.55,32.89,32.83,32.77,32.71,32.65,32.59,32.53,32.47,32.41,32.35,32.29,32.23,32.17,32.12],
[39.05,32.90,32.84,32.78,32.72,32.66,32.60,32.54,32.48,32.42,32.36,32.30,32.24,32.18,32.13],
[39.55,32.91,32.85,32.79,32.73,32.67,32.61,32.55,32.49,32.43,32.37,32.31,32.25,32.19,32.13],
[40.05,32.92,32.86,32.80,32.74,32.68,32.62,32.56,32.50,32.44,32.38,32.32,32.26,32.20,32.14],
[40.55,32.92,32.86,32.80,32.74,32.68,32.62,32.56,32.50,32.44,32.38,32.32,32.26,32.20,32.14],
[41.05,32.89,32.83,32.77,32.71,32.65,32.59,32.53,32.47,32.41,32.35,32.29,32.23,32.17,32.13],
[41.55,32.85,32.79,32.73,32.67,32.61,32.55,32.49,32.43,32.37,32.31,32.25,32.19],
[42.55,32.89,32.83,32.77,32.71,32.65,32.59,32.53,32.50],
[43.05,32.89,32.83,32.77,32.71,32.65,32.59,32.53,32.49],
[43.55,32.88,32.82,32.76,32.70,32.64,32.58,32.52],
[44.05,32.87,32.81,32.75,32.69,32.63,32.57,32.51],
[44.55,32.86,32.80,32.74,32.68,32.62,32.56,32.52],
[45.75,32.86,32.80,32.74,32.68,32.62,32.57],
[46.25,32.85,32.79,32.73,32.67,32.61,32.56],
[46.75,32.85,32.79,32.73,32.67,32.61,32.57],
[47.25,32.82,32.76,32.70,32.64,32.58],
[48.25,32.92,32.85,32.78,32.71,32.65,32.59,32.53],
[48.75,32.94,32.87,32.80,32.73,32.67,32.61,32.55,32.50],
[49.25,32.95,32.88,32.81,32.74,32.67,32.61,32.55,32.50],
[49.75,32.93,32.86,32.79,32.72,32.66,32.60,32.54,32.49],
[50.25,32.97,32.90,32.83,32.76,32.70,32.64,32.58,32.52],
[50.75,32.99,32.92,32.85,32.78,32.72,32.66,32.60,32.54,32.49],
[51.25,32.99,32.92,32.85,32.78,32.72,32.66,32.60,32.54],
[51.7,32.98,32.91,32.84,32.77,32.70,32.64,32.58,32.52]
];

// salinity: single readings -> [hour, value]
var salScatter = [
[-1.6,31.28],[-1.5,31.22],[-1.1,31.25],[-0.94,31.19],[-1.67,31.03],[-1.45,31.01],[-1.2,30.98],[-0.9,30.97],[-1.6,30.92],[-1.35,30.9],[-1.1,30.87],[-1.67,30.4],[-0.94,30.06],
[1.22,31.25],[1.25,31.17],[1.05,31.03],[1.88,31.28],[2.11,31.04],[2.54,31.03],[2.31,30.79],[1.81,30.63],[2.04,30.57],[2.38,30.55],[1.05,30.52],
[1.31,30.49],[0.88,30.42],[1.31,30.4],[1.88,30.42],[2.54,30.45],[1.31,30.35],[1.22,30.29],[1.31,30.18],[1.1,30.33],
[6.7,30.47],[7.0,30.44],[7.4,30.46],[7.7,30.43],[8.0,30.45],[8.3,30.48],[8.6,30.44],[8.9,30.46],[9.2,30.45],[7.2,30.41],[8.5,30.5],
[7.36,30.77],[7.69,30.8],[8.02,30.56],[9.02,30.6],[9.85,30.24],[10.5,30.56],[10.5,30.24],[11.34,30.42],[9.85,30.06],[8.7,30.86],[9.02,31.0],
[6.7,31.34],[6.86,31.25],[7.36,31.4],[7.86,31.45],[8.35,31.36],[8.85,31.38],[9.35,31.28],[9.85,31.25],[10.2,31.33],[10.84,31.36],[11.18,31.22],
[9.5,31.45],[10.5,31.42],[10.84,31.12],[11.67,31.22],[8.85,31.2],[7.69,31.42],
[12.34,30.86],[13.0,30.81],[13.17,30.54],[12.34,30.61],[11.84,30.32],[12.0,30.18],[13.17,30.26],[13.83,30.3],[14.16,30.54],[14.16,30.23],
[14.16,30.16],[15.16,30.08],[14.83,30.46],[15.16,30.93],[15.66,30.77],[16.15,30.56],[16.15,30.47],[15.76,30.23],[15.82,30.2],[16.15,30.77],
[16.49,30.71],[16.82,30.74],[17.15,30.77],[17.65,30.86],[17.65,30.81],[17.48,30.94],[17.42,31.05],[13.83,31.19],[12.84,31.11],[15.49,31.11],
[14.5,31.17],[13.5,31.25],[12.5,31.36],[11.5,31.5],[14.83,31.34],[15.82,31.22],[16.82,31.25],[17.48,31.17],[18.15,31.22],[11.9,31.22],
[13.3,31.36],[14.16,31.45],[15.5,31.47],[16.5,31.4],[17.5,31.32],[12.0,31.45],[13.0,31.55],[16.0,31.58],[17.0,31.6],[14.5,31.62],
[18.8,31.03],[19.3,30.97],[19.8,31.0],[18.98,31.14],[19.48,31.17],[20.47,31.22],[21.14,31.25],[21.97,31.05],[22.3,30.97],[22.8,31.17],
[23.13,31.22],[23.46,31.28],[22.46,31.36],[21.47,31.39],[20.5,31.39],[19.5,31.33],[18.8,31.51],[19.8,31.45],[20.8,31.51],[21.8,31.47],
[22.8,31.54],[23.63,30.86],[18.5,31.65],[19.5,31.68],[20.5,31.7],[21.0,31.6],[19.0,31.75],[20.0,31.6],
[23.8,30.94],[24.1,30.86],[24.6,30.88],[24.8,30.83],[25.1,30.86],[25.45,30.8],[25.8,30.84],[26.1,30.81],[26.6,30.83],[26.95,30.8],
[25.1,30.74],[24.3,30.97],[24.95,31.03],[25.6,31.05],[26.1,31.0],[26.8,31.05],[24.1,31.17],[24.8,31.22],[25.45,31.25],[26.1,31.17],
[26.8,31.22],[23.96,31.36],[24.6,31.39],[25.3,31.31],[25.95,31.39],[26.6,31.45],[27.1,31.36],[24.3,31.5],[25.0,31.47],[25.7,31.52],
[26.12,30.89],[26.8,30.82],[27.1,30.8],[27.6,30.75],[28.1,30.72],[26.45,30.77],[27.8,30.85],[28.5,30.89],[29.1,30.92],[29.8,30.9],
[30.5,30.92],[31.15,30.93],[31.8,30.95],[32.5,30.95],[33.2,30.97],[33.8,30.99],[34.3,31.02],[34.7,31.0],[35.2,30.96],[35.7,30.92],
[36.2,30.95],[36.85,30.93],[37.5,30.95],[38.2,30.95],[38.9,30.96],[39.5,30.96],[40.2,30.97],[40.9,30.99],[41.5,30.99],[29.5,30.85],
[32.8,30.89],[35.5,30.89],[37.9,30.92],
[26.8,31.09],[27.5,31.2],[28.1,31.32],[27.1,31.43],[26.5,31.55],[29.1,31.09],[29.8,31.23],[30.5,31.17],[31.15,31.35],[31.8,31.26],
[32.8,31.23],[33.5,31.15],[32.2,31.09],[30.8,31.03],[34.2,31.2],[34.8,31.09],[35.85,31.17],[36.85,31.2],[37.5,31.12],[38.2,31.2],
[39.2,31.15],[40.2,31.2],[40.9,31.09],[41.5,31.23],[36.2,31.32],[37.2,31.37],[37.9,31.43],[38.9,31.35],[39.9,31.4],[40.9,31.46],
[41.5,31.37],[35.2,31.4],[34.2,31.49],[33.2,31.43],[32.2,31.49],[31.15,31.52],[30.1,31.4],[29.1,31.43],[28.1,31.49],
[29.5,31.77],[30.1,31.66],[30.8,31.83],[31.5,31.72],[32.2,31.86],[32.8,31.66],[33.5,31.77],[34.2,31.89],[34.8,31.72],[35.5,31.83],
[36.2,31.66],[36.85,31.86],[37.5,31.75],[38.2,31.6],[38.9,31.83],[39.5,31.72],[40.2,31.86],[40.9,31.66],[41.5,31.77],[29.8,31.55],
[31.8,31.58],[33.8,31.6],[35.8,31.57],[37.9,31.92],[39.9,31.98],[41.2,31.95],[30.5,31.97],[32.5,32.0],[34.5,31.97],[36.5,31.95],
[28.8,31.95],[29.2,31.88],[31.0,31.92],[33.0,31.93],[35.0,32.02],[36.0,32.05],[38.5,32.04],[40.5,32.05],[37.0,32.02],[39.2,31.9],
[42.55,32.35],[43.6,32.29],[44.4,32.37],[42.9,32.2],[43.9,32.17],[44.9,32.23],[45.9,32.35],[46.7,32.26],[47.6,32.35],[48.25,32.26],
[49.3,32.32],[49.9,32.29],[50.9,32.23],[51.8,32.17],[51.8,32.35],[51.1,32.4],[42.4,32.0],[42.9,31.83],[43.6,31.95],[44.2,31.86],
[44.9,32.0],[46.2,31.97],[46.9,31.86],[47.6,32.0],[48.25,31.92],[49.3,31.95],[49.9,31.86],[50.9,31.95],[51.8,31.92],[42.55,31.66],
[44.2,31.52],[44.6,31.49],[42.9,31.49],[42.2,31.4],[43.6,31.4],[45.2,31.32],[46.2,31.35],[47.2,31.32],[47.9,31.37],[49.3,31.4],
[49.6,31.29],[50.9,31.32],[51.8,31.36],[46.6,31.26],[49.3,31.23],[49.9,31.23],[42.55,31.22],[43.6,31.15],[44.2,31.12],[45.1,31.09],
[45.9,31.1],[42.2,31.0],[42.9,30.99],[43.6,31.0],[44.4,30.99],[45.4,30.96],[45.9,30.93],[46.4,30.99],[47.2,31.05],[42.2,30.93],
[43.2,31.6],[45.6,31.6],[46.6,31.72],[47.6,31.52],[48.4,31.63],[49.1,31.77],[49.9,31.66],[50.9,31.72],[51.8,31.63],[51.8,31.55],
[50.9,31.56],[47.6,32.12],[47.0,32.08],[44.9,32.12],[49.6,32.12],[50.8,32.1],[51.2,32.0],[42.8,32.42],[45.2,32.45],[48.8,32.42],
[43.0,32.1],[46.0,32.15],[50.2,32.4],
[36.5,33.06],[36.5,33.09],[39.9,33.08],[41.4,33.15],[43.4,33.11],[43.9,33.05],[34.2,33.02],[48.9,33.05],[50.3,33.03],[52.1,33.0],[52.95,32.93],
[52.4,33.0],[52.6,33.0],[52.8,33.01],[53.0,33.0],[53.4,33.0],[53.8,32.99],[54.2,32.99],[54.6,32.98],[55.0,32.97],[55.4,32.96],
[55.8,32.95],[56.2,32.93],[56.6,32.92]
];

var baseTime = Date.UTC(2026, 4, 7);
function toDate(h) { return new Date(baseTime + h * 3600e3); }

// figure layout (pixels)
var figW = 1500, figH = 1400;
var axW = 641;
var colLeft = [102, 852];
var rowTop = [44, 525, 939];
var rowH = [368, 369, 369];
var tickFont = 27.8, titleFont = 25;
var lw = 2.2, tickLen = 9.7;
var blue = "#1f77b4", gridColor = "#b0b0b0";

var svg = d3.select("#fig").append("svg")
    .attr("width", figW)
    .attr("height", figH);

var x = d3.scaleUtc()
    .domain([toDate(-4.6), toDate(59.5)])
    .range([0, axW]);
var tickDates = tickHours.map(toDate);

function flatten(profiles, singles) {
  var out = [];
  profiles.forEach(function(r) {
    for (var i = 1; i < r.length; i++) out.push([r[0], r[i]]);
  });
  return out.concat(singles);
}

function styleAxis(g) {
  g.select(".domain").remove();
  g.selectAll(".tick line").attr("stroke", "#000").attr("stroke-width", lw);
  g.selectAll(".tick text")
    .attr("fill", "#000")
    .style("font-family", "'DejaVu Sans', sans-serif")
    .style("font-size", tickFont + "px");
}

function drawPanel(col, row, opts) {
  var left = colLeft[col], top = rowTop[row], h = rowH[row];
  var g = svg.append("g").attr("transform", "translate(" + left + "," + top + ")");
  var y = d3.scaleLinear().domain(opts.yDomain).range([h, 0]);

  if (opts.points) {
    var clipId = "clip" + col + row;
    g.append("clipPath").attr("id", clipId)
      .append("rect").attr("width", axW).attr("height", h);
    g.append("g").attr("clip-path", "url(#" + clipId + ")")
      .selectAll("circle")
      .data(opts.points)
      .enter()
      .append("circle")
        .attr("cx", function(d) { return x(toDate(d[0])); })
        .attr("cy", function(d) { return y(d[1]); })
        .attr("r", 2)
        .attr("fill", blue);

    // grid on top of the scatter, like matplotlib
    g.append("g")
      .call(d3.axisBottom(x).tickValues(tickDates).tickSize(h).tickFormat(""))
      .call(function(s) {
        s.select(".domain").remove();
        s.selectAll("line").attr("stroke", gridColor).attr("stroke-width", lw);
      });
    g.append("g")
      .call(d3.axisLeft(y).tickValues(opts.yTicks).tickSize(-axW).tickFormat(""))
      .call(function(s) {
        s.select(".domain").remove();
        s.selectAll("line").attr("stroke", gridColor).attr("stroke-width", lw);
      });
  }

  // x axis
  g.append("g")
    .attr("transform", "translate(0," + h + ")")
    .call(d3.axisBottom(x).tickValues(tickDates)
      .tickFormat(function(d, i) { return opts.xLabels ? tickLabels[i] : ""; })
      .tickSize(tickLen).tickPadding(13).tickSizeOuter(0))
    .call(styleAxis);

  // y axis
  g.append("g")
    .call(d3.axisLeft(y).tickValues(opts.yTicks)
      .tickFormat(opts.yFormat)
      .tickSize(tickLen).tickPadding(9.7).tickSizeOuter(0))
    .call(styleAxis);

  // spines
  g.append("rect")
    .attr("width", axW).attr("height", h)
    .attr("fill", "none").attr("stroke", "#000").attr("stroke-width", lw);

  if (opts.xLabels) {
    g.append("text")
      .attr("x", axW).attr("y", h + 79)
      .attr("text-anchor", "end")
      .style("font-size", tickFont + "px")
      .text("2026-May-09");
  }
  if (opts.title) {
    g.append("text")
      .attr("x", 0).attr("y", -18)
      .style("font-size", titleFont + "px")
      .text(opts.title);
  }
  if (opts.ylabel) {
    g.append("text")
      .attr("transform", "translate(" + opts.ylabelX + "," + (h / 2) + ")rotate(-90)")
      .attr("text-anchor", "middle")
      .style("font-size", tickFont + "px")
      .text(opts.ylabel);
  }
}

drawPanel(0, 0, {
  yDomain: [8.061, 13.176], yTicks: tempTicks, yFormat: d3.format("d"),
  points: flatten(tempProfiles.concat(tempProfilesB), tempScatter), xLabels: true,
  title: "water temperature over time",
  ylabel: "water temperature [Celsius]", ylabelX: -70
});
drawPanel(1, 0, {
  yDomain: [30.044, 33.17], yTicks: salTicks, yFormat: d3.format("d"),
  points: flatten(salProfiles.concat(salProfilesB), salScatter), xLabels: true,
  title: "water salinity over time",
  ylabel: "water salinity [1e-3]", ylabelX: -71
});
[0, 1].forEach(function(c) {
  drawPanel(c, 1, { yDomain: [0, 1], yTicks: emptyTicks, yFormat: d3.format(".1f"), xLabels: false });
  drawPanel(c, 2, { yDomain: [0, 1], yTicks: emptyTicks, yFormat: d3.format(".1f"), xLabels: true });
});
</script>
</body>
</html>
